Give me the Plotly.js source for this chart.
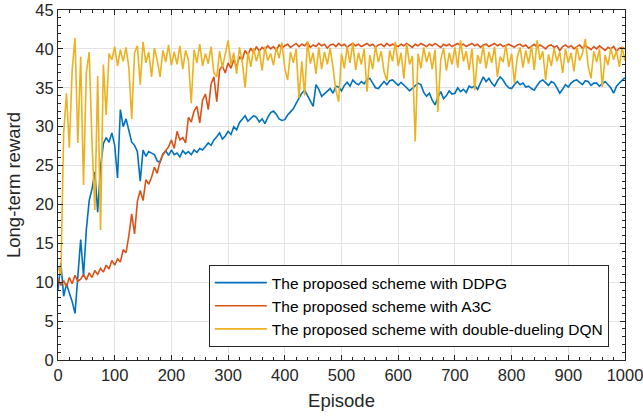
<!DOCTYPE html>
<html>
<head>
<meta charset="utf-8">
<script src="https://cdn.plot.ly/plotly-3.0.1.min.js"></script>
<style>html,body{margin:0;padding:0;background:#fff;}#chart{width:643px;height:419px;}</style>
</head>
<body>
<div id="chart"></div>
<script>
// Episode sampling step used when reading values off the reference
const episodeStep = 5;

const seriesNames = [
  "The proposed scheme with DDPG",
  "The proposed scheme with A3C",
  "The proposed scheme with double-dueling DQN"
];

// DDPG, episodes 0..1000 every 5
const ddpg = [
  9.0,12.5,8.2,9.8,8.6,7.5,6.0,11.0,15.5,10.8,
  16.8,20.5,22.0,24.2,19.0,24.8,27.8,28.6,28.0,29.2,
  27.6,23.4,32.2,30.0,31.0,29.5,28.0,27.6,26.8,23.0,
  27.0,26.2,26.8,26.6,26.4,25.6,25.4,26.5,26.9,26.3,
  27.0,26.4,26.6,26.1,26.9,26.5,26.8,26.4,27.0,26.7,
  27.2,27.0,27.5,27.9,27.6,28.3,28.7,29.2,28.4,28.8,
  29.4,29.0,30.0,29.6,30.5,31.0,31.4,30.7,31.0,31.4,
  31.2,30.6,31.0,30.4,31.2,31.8,32.0,31.6,31.0,30.8,
  30.9,31.5,31.9,32.3,33.0,33.6,34.3,34.7,34.0,33.2,
  32.6,35.4,34.8,33.9,34.2,34.6,34.9,34.3,35.2,35.1,
  34.6,35.3,35.7,35.2,36.0,35.6,35.4,35.8,35.5,36.1,
  36.2,35.6,35.0,34.9,35.3,35.8,35.4,35.9,36.0,35.6,
  35.3,35.7,35.4,35.0,34.6,34.9,35.3,35.6,35.4,34.4,
  33.9,34.3,33.4,32.8,33.8,34.5,33.6,34.0,34.6,34.2,
  34.3,35.0,34.5,34.8,34.4,35.2,35.0,35.3,34.8,35.6,
  36.4,35.8,36.2,35.6,35.2,35.9,36.4,36.0,35.4,35.0,
  34.9,35.4,35.8,35.4,35.6,35.1,35.2,34.9,34.7,35.3,
  35.8,36.0,35.7,35.3,35.8,35.6,35.0,34.3,34.8,35.4,
  35.1,35.6,35.9,36.0,35.7,35.4,35.9,35.8,35.3,35.6,
  35.6,35.2,35.5,35.8,35.4,35.0,34.3,35.2,35.6,36.0,
  36.3
];

// A3C, episodes 0..1000 every 5
const a3c = [
  10.5,9.6,10.2,9.4,10.6,9.8,10.9,10.1,10.4,11.0,
  10.3,11.2,10.6,11.5,11.0,11.8,11.3,12.2,11.7,12.8,
  12.2,13.0,12.6,14.2,13.8,16.0,18.8,16.2,20.4,21.8,
  20.5,23.2,22.6,23.5,24.8,24.0,25.6,26.4,26.9,27.4,
  28.3,27.2,29.4,28.3,28.6,27.9,31.2,30.6,32.0,32.6,
  30.5,33.4,34.2,32.2,35.5,36.4,33.2,37.3,37.8,36.9,
  38.2,37.5,38.6,37.7,39.0,38.6,39.8,39.2,40.1,39.5,
  40.3,39.7,40.2,39.9,40.4,40.0,40.3,39.8,40.5,40.1,
  40.4,40.6,40.2,40.5,40.7,40.3,40.6,40.4,40.8,40.2,
  40.5,40.3,40.7,40.4,40.6,40.1,40.5,40.6,40.3,40.7,
  40.4,40.6,40.2,40.5,40.7,40.4,40.6,40.3,40.5,40.7,
  40.4,40.6,40.2,40.5,40.6,40.3,40.7,40.4,40.6,40.5,
  40.3,40.6,40.4,40.7,40.5,40.2,40.6,40.4,40.7,40.5,
  40.3,40.6,40.4,40.7,40.5,40.2,40.6,40.4,40.6,40.3,
  40.5,40.7,40.4,40.6,40.3,40.5,40.7,40.4,40.6,40.2,
  40.5,40.6,40.3,40.5,40.7,40.4,40.6,40.3,40.5,40.6,
  40.4,40.2,40.5,40.6,40.3,40.5,40.1,40.4,40.6,40.2,
  40.5,40.3,40.0,40.4,40.5,40.2,40.4,39.8,40.3,40.5,
  40.2,40.4,40.0,40.3,40.5,40.1,40.4,40.2,39.9,40.3,
  40.0,40.4,40.1,39.8,40.2,40.0,40.3,39.7,40.1,40.2,
  40.0
];

// Double-dueling DQN, episodes 0..1000 every 5
const dqn = [
  12.0,10.8,29.2,34.3,27.3,37.3,41.4,27.9,39.0,22.5,
  37.0,39.6,27.9,19.3,36.5,16.7,38.0,31.5,39.4,38.6,
  40.3,37.8,39.9,38.4,40.2,37.6,31.0,39.5,40.4,35.4,
  40.9,38.2,39.6,36.4,40.1,38.5,36.4,39.8,38.3,40.5,
  37.9,39.6,38.0,40.4,37.4,39.8,38.6,33.0,39.9,38.2,
  40.6,37.8,39.4,38.1,40.3,36.9,36.4,39.7,37.6,39.2,
  41.1,38.0,39.5,36.8,40.2,38.3,35.0,39.6,37.7,40.1,
  38.4,39.8,37.2,40.3,38.5,39.4,37.9,40.2,38.8,40.8,
  37.5,36.0,39.6,38.2,40.0,33.7,38.4,34.0,41.0,38.1,
  39.5,36.8,40.2,37.4,39.6,38.0,40.1,37.6,34.7,33.2,
  39.4,37.5,40.3,38.2,40.8,37.3,39.5,38.0,40.0,34.5,
  39.2,37.4,40.4,38.3,39.7,37.1,35.9,39.8,38.4,40.9,
  37.8,39.5,36.2,40.6,38.0,39.1,28.1,39.4,37.5,40.2,
  38.3,39.6,37.4,39.9,31.9,38.6,40.1,37.2,39.5,38.0,
  40.2,37.6,41.1,38.4,39.7,37.3,40.0,34.7,39.2,38.1,
  40.4,37.5,39.6,38.2,40.3,36.4,39.0,38.3,40.5,37.7,
  39.4,35.6,38.9,40.2,37.6,39.8,38.1,40.4,37.3,41.1,
  38.6,39.7,36.0,39.3,37.8,40.1,38.4,39.6,36.9,40.0,
  38.2,39.5,37.1,40.3,38.5,39.4,41.3,37.8,36.2,39.7,
  38.3,40.0,35.1,39.2,37.9,40.1,38.6,39.8,37.7,40.2,
  38.5
];

const colors = ["#0072BD", "#D95319", "#EDB120"];

function episodes(n) { const e = []; for (let i = 0; i < n; i++) e.push(i * episodeStep); return e; }

const allSeries = [ddpg, a3c, dqn];
const traces = allSeries.map((vals, i) => ({
  x: episodes(vals.length),
  y: vals,
  type: "scatter",
  mode: "lines",
  name: seriesNames[i],
  line: { color: colors[i], width: 1.6 }
}));

const fontFam = "Liberation Sans, Arial, sans-serif";
const axisCommon = {
  showline: true, linecolor: "#262626", linewidth: 1, mirror: "allticks",
  ticks: "inside", ticklen: 5, tickcolor: "#262626", tickwidth: 1,
  showgrid: true, gridcolor: "#e3e3e3", gridwidth: 1,
  zeroline: false, ticklabeloverflow: "allow",
  tickfont: { family: fontFam, size: 16.5, color: "#262626" }
};

const layout = {
  width: 643, height: 419,
  margin: { l: 58, r: 18, t: 10, b: 59 },
  paper_bgcolor: "#ffffff", plot_bgcolor: "#ffffff",
  font: { family: fontFam, color: "#262626" },
  showlegend: true,
  xaxis: Object.assign({}, axisCommon, {
    range: [0, 1000], dtick: 100, tick0: 0,
    minor: { ticks: "inside", ticklen: 3, dtick: 20, tickcolor: "#262626", showgrid: false },
    title: { text: "Episode", font: { family: fontFam, size: 18.5, color: "#262626" }, standoff: 11 }
  }),
  yaxis: Object.assign({}, axisCommon, {
    range: [0, 45], dtick: 5, tick0: 0,
    minor: { ticks: "inside", ticklen: 3, dtick: 1, tickcolor: "#262626", showgrid: false },
    title: { text: "Long-term reward", font: { family: fontFam, size: 18.5, color: "#262626" }, standoff: 9 }
  }),
  legend: {
    x: 0.266, y: 0.037, xanchor: "left", yanchor: "bottom",
    bgcolor: "#ffffff", bordercolor: "#262626", borderwidth: 1,
    font: { family: fontFam, size: 15.5, color: "#000000" },
    tracegroupgap: 0, itemwidth: 52
  }
};

Plotly.newPlot("chart", traces, layout, { staticPlot: true, displayModeBar: false });
</script>
</body>
</html>
